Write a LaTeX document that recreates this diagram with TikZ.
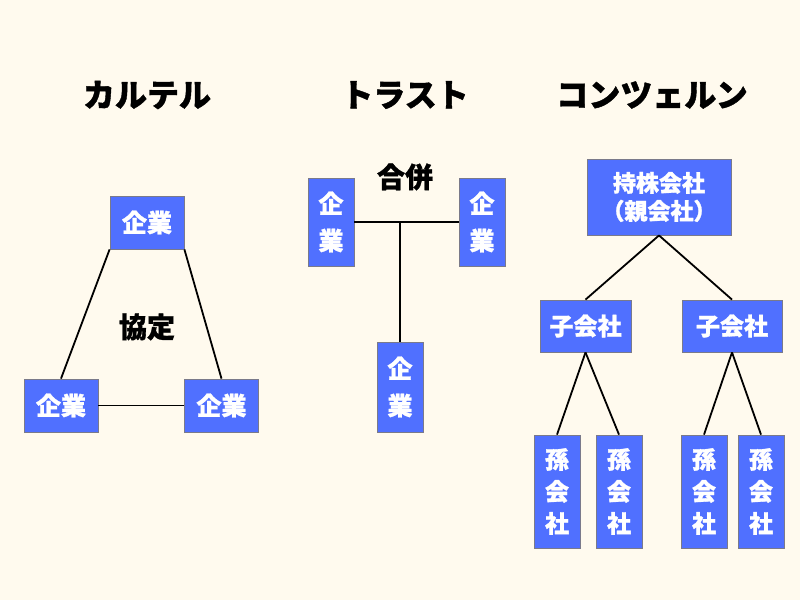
\documentclass[tikz,border=0pt]{standalone}
\usepackage{fontspec}
\setmainfont{Noto Sans CJK JP}[BoldFeatures={FakeBold=1.2}]
\definecolor{bg}{HTML}{FFFAEE}
\definecolor{boxblue}{HTML}{5070FF}
\definecolor{boxedge}{HTML}{7A7A8A}
\begin{document}
\begin{tikzpicture}[x=1pt,y=-1pt,
  box/.style={draw=boxedge,line width=0.8pt,fill=boxblue,text=white,font=\bfseries\fontsize{25}{30}\selectfont,align=center,inner sep=0pt},
  vbox/.style={box,font=\bfseries\fontsize{25}{37}\selectfont},
  gbox/.style={box,font=\bfseries\fontsize{24}{32}\selectfont},
  title/.style={font=\bfseries\fontsize{32}{38}\selectfont,inner sep=0pt},
  lbl/.style={font=\bfseries\fontsize{28}{32}\selectfont,inner sep=0pt},
  conn/.style={line width=1.8pt,black}]
\fill[bg] (0,0) rectangle (800,600);
\useasboundingbox (0,0) rectangle (800,600);
% titles
\node[title] (tc) at (147,95) {カルテル};
\node[title] (tt) at (405,95) {トラスト};
\node[title] (tk) at (652,95) {コンツェルン};
% cartel
\node[box,minimum width=74pt,minimum height=53pt] (c1) at (147,222.5) {企業};
\node[box,minimum width=74pt,minimum height=53pt] (c2) at (61,405.5) {企業};
\node[box,minimum width=74pt,minimum height=53pt] (c3) at (221.5,405.5) {企業};
\node[lbl] (kt) at (147,327) {協定};
\draw[conn] (c1.south west) -- (c2.north);
\draw[conn] (c1.south east) -- (c3.north);
\draw[conn] (c2.east) -- (c3.west);
% trust
\node[vbox,minimum width=46pt,minimum height=88pt] (t1) at (331,222) {企\\業};
\node[vbox,minimum width=46pt,minimum height=88pt] (t2) at (482,222) {企\\業};
\node[vbox,minimum width=46pt,minimum height=90pt] (t3) at (400,387) {企\\業};
\node[lbl] (gp) at (405,177) {合併};
\coordinate (j) at (400,222);
\draw[conn] (t1.east) -- (t2.west);
\draw[conn] (j) -- (t3.north);
% konzern
\node[box,minimum width=144pt,minimum height=76pt,font=\bfseries\fontsize{23}{28}\selectfont] (p) at (659,197) {持株会社\\（親会社）};
\node[box,minimum width=91pt,minimum height=52pt,font=\bfseries\fontsize{24}{30}\selectfont] (k1) at (585.5,326) {子会社};
\node[box,minimum width=100pt,minimum height=52pt,font=\bfseries\fontsize{24}{30}\selectfont] (k2) at (732,326) {子会社};
\node[gbox,minimum width=46pt,minimum height=113pt] (g1) at (557,491.5) {孫\\会\\社};
\node[gbox,minimum width=46pt,minimum height=113pt] (g2) at (619,491.5) {孫\\会\\社};
\node[gbox,minimum width=46pt,minimum height=113pt] (g3) at (704,491.5) {孫\\会\\社};
\node[gbox,minimum width=46pt,minimum height=113pt] (g4) at (761,491.5) {孫\\会\\社};
\draw[conn] (p.south) -- (k1.north);
\draw[conn] (p.south) -- (k2.north);
\draw[conn] (k1.south) -- (g1.north);
\draw[conn] (k1.south) -- (g2.north);
\draw[conn] (k2.south) -- (g3.north);
\draw[conn] (k2.south) -- (g4.north);
\end{tikzpicture}
\end{document}
